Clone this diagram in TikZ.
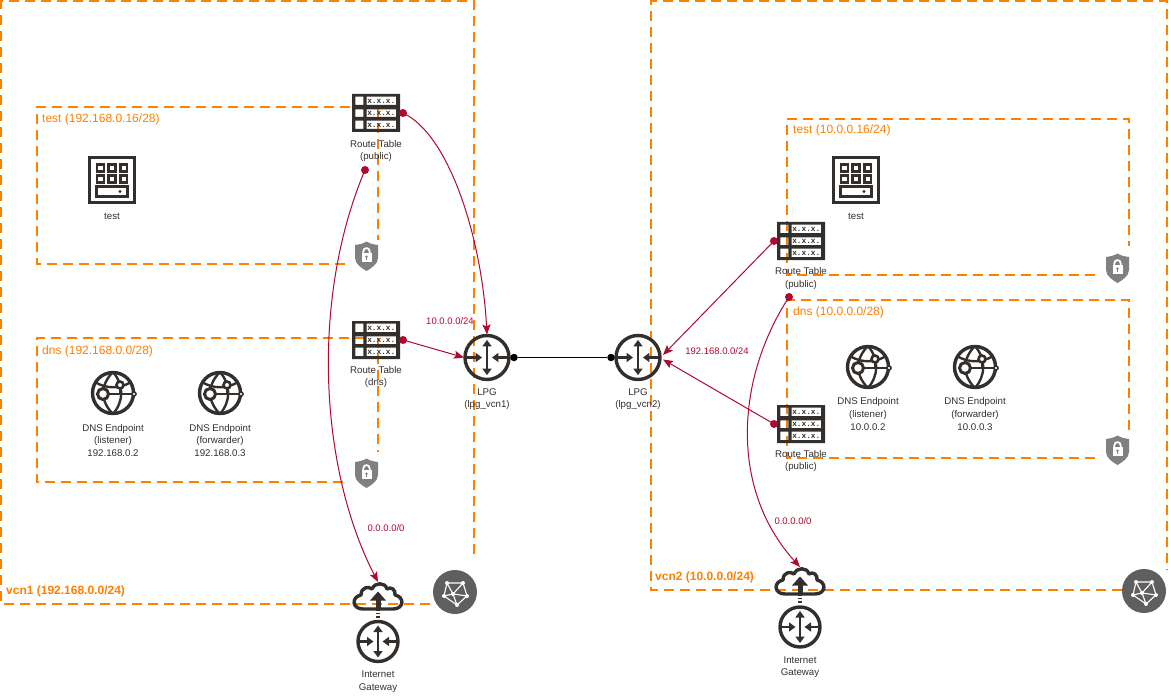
\documentclass[tikz,border=0pt]{standalone}
\usepackage{fontspec}
\setmainfont{Liberation Sans}
\newfontfamily\cellfont{Liberation Mono}
\usetikzlibrary{arrows.meta}
\definecolor{oracleorange}{HTML}{FF7F00}
\definecolor{routered}{HTML}{AE0A2E}
\definecolor{icondark}{HTML}{332F2C}
\definecolor{badgegray}{HTML}{5F5F5F}
\definecolor{shieldgray}{HTML}{808080}
\tikzset{
  subnetline/.style={draw=oracleorange,line width=2pt,dash pattern=on 10pt off 6pt},
  subnetlabel/.style={text=oracleorange,inner sep=0pt,font=\fontsize{12}{14}\selectfont},
  vcnlabel/.style={text=oracleorange,inner sep=0pt,font=\fontsize{12}{14}\selectfont\bfseries},
  iconlabel/.style={align=center,inner sep=0pt,text=icondark,font=\fontsize{9.7}{12.6}\selectfont},
  routelabel/.style={text=routered,inner sep=0pt,font=\fontsize{9.5}{12}\selectfont},
  routeline/.style={draw=routered,line width=1pt,-{Stealth[length=10pt,width=8pt,inset=2pt]}},
  rtslot/.style={minimum width=48pt,minimum height=38pt,inner sep=0pt,outer sep=3pt},
  roundslot/.style={circle,minimum size=46pt,inner sep=0pt,outer sep=0pt},
  cloudslot/.style={minimum width=48pt,minimum height=28pt,inner sep=0pt,outer sep=0pt},
  dot/.style={circle,fill=routered,minimum size=8pt,inner sep=0pt},
  blackdot/.style={circle,fill=black,minimum size=7.5pt,inner sep=0pt},
  pics/routetable/.style={code={
    \fill[icondark,even odd rule] (-24,-19) rectangle (24,19)
      (-20.7,-16.3) rectangle (-12.7,-8) (-9.3,-16.3) rectangle (20,-8)
      (-20.7,-3.7) rectangle (-12.7,4) (-9.3,-3.7) rectangle (20,4)
      (-20.7,7.7) rectangle (-12.7,16) (-9.3,7.7) rectangle (20,16);
    \foreach \rowy in {-12,0,12}
      \node[text=icondark,inner sep=0pt,font=\fontsize{7.8}{8}\cellfont\bfseries] at (5.3,\rowy) {x.x.x.};
  }},
  pics/router/.style={code={
    \draw[icondark,line width=3.4pt] (0,0) circle (20);
    \draw[icondark,line width=2.4pt,{Triangle[width=9pt,length=6.5pt]}-{Triangle[width=9pt,length=6.5pt]}] (0,-16) -- (0,16);
    \draw[icondark,line width=2.4pt,-{Triangle[width=9pt,length=6.5pt]}] (-20,0) -- (-4.5,0);
    \draw[icondark,line width=2.4pt,-{Triangle[width=9pt,length=6.5pt]}] (20,0) -- (4.5,0);
  }},
  pics/cloudgw/.style={code={
    \draw[icondark,line width=3.4pt,line join=round] (-15,13) .. controls (-26,13) and (-27,1) .. (-17,-1)
      .. controls (-17,-9) and (-9,-10) .. (-6,-7) .. controls (-3,-14) and (7,-14) .. (9,-7)
      .. controls (13,-10) and (18,-6) .. (17,-1) .. controls (27,1) and (26,13) .. (15,13) -- cycle;
    \draw[icondark,line width=5pt] (0,14) -- (0,3);
    \fill[icondark] (0,-4.5) -- (8,4.5) -- (-8,4.5) -- cycle;
  }},
  pics/instance/.style={code={
    \draw[icondark,line width=3.2pt] (-22.5,-22.5) rectangle (22.5,22.5);
    \foreach \colx in {-11.7,0,11.7}
      \foreach \rowy in {-12,-1}
        \draw[icondark,line width=2.4pt] (\colx-3.4,\rowy-3.4) rectangle (\colx+3.4,\rowy+3.4);
    \draw[icondark,line width=2.8pt] (-15.5,6.5) rectangle (15.5,16.5);
    \fill[icondark] (8,11.5) circle (1.7);
  }},
  pics/dnsglobe/.style={code={
    \draw[icondark,line width=3.4pt] (0,0) circle (20.5);
    \draw[icondark,line width=2.4pt] (0,-21) .. controls (-13,-8) and (-13,8) .. (0,21);
    \draw[icondark,line width=2.4pt] (0,-21) .. controls (11,-8) and (11,8) .. (0,21);
    \draw[icondark,line width=2.4pt] (-18,-11) .. controls (-7,-4) and (7,-4) .. (18,-11);
    \draw[icondark,line width=2.4pt] (-10,1) -- (21,1) (7,-8) -- (7,1);
    \draw[icondark,line width=3pt,fill=white] (-10,1) circle (5.5);
    \draw[icondark,line width=2.6pt,fill=white] (7,-8) circle (3.5);
    \draw[icondark,line width=1.6pt,fill=white] (21,1) circle (2);
  }},
  pics/shield/.style={code={
    \fill[shieldgray] (0,-14.5) .. controls (4,-12) and (8,-11.5) .. (11.5,-11) -- (11.5,2)
      .. controls (11.5,8) and (5,12) .. (0,15) .. controls (-5,12) and (-11.5,8) .. (-11.5,2) -- (-11.5,-11)
      .. controls (-8,-11.5) and (-4,-12) .. (0,-14.5) -- cycle;
    \draw[white,line width=1.8pt] (-3.2,-2) -- (-3.2,-4.5) .. controls (-3.2,-9) and (3.2,-9) .. (3.2,-4.5) -- (3.2,-2);
    \fill[white] (-5,-3) rectangle (5,5.5);
    \fill[shieldgray] (0,0.8) circle (1.4);
    \draw[shieldgray,line width=1pt] (0,1) -- (0,3.6);
  }},
  pics/vcnbadge/.style={code={
    \fill[badgegray] (0,0) circle (22);
    \draw[white,line width=1.1pt,line join=round] (-8,-9) -- (8,-9) -- (12,4) -- (2,13) -- (-11,4) -- cycle
      (-8,-9) -- (-2,2) -- (12,4) (8,-9) -- (-2,2) -- (2,13) (-11,4) -- (-2,2);
    \foreach \gx/\gy in {-8/-9,8/-9,-11/4,2/13,12/4,-2/2}
      \fill[white] (\gx,\gy) circle (2);
  }}
}
\begin{document}
\begin{tikzpicture}[x=1pt,y=-1pt]
  \useasboundingbox (0,0) rectangle (1171,698);

  \draw[subnetline] (430,604) -- (1,604) -- (1,1) -- (474,1) -- (474,560);
  \draw[subnetline] (345,264) -- (37,264) -- (37,107) -- (360,107);
  \draw[subnetline] (378,107) -- (378,240);
  \draw[subnetline] (365,338) -- (37,338) -- (37,482) -- (346,482);
  \draw[subnetline] (378,338) -- (378,452);

  \draw[subnetline] (1122,590) -- (651,590) -- (651,1) -- (1167,1) -- (1167,570);
  \draw[subnetline] (1095,275) -- (787,275) -- (787,119) -- (1129,119) -- (1129,246);
  \draw[subnetline] (1095,458) -- (787,458) -- (787,300) -- (1129,300) -- (1129,435);

  \node[vcnlabel,anchor=west] (vcnAname) at (6,591) {vcn1 (192.168.0.0/24)};
  \node[vcnlabel,anchor=west] (vcnBname) at (655,577) {vcn2 (10.0.0.0/24)};
  \node[subnetlabel,anchor=west] (testAname) at (42,119) {test (192.168.0.16/28)};
  \node[subnetlabel,anchor=west] (dnsAname) at (42,351) {dns (192.168.0.0/28)};
  \node[subnetlabel,anchor=west] (testBname) at (793,130) {test (10.0.0.16/24)};
  \node[subnetlabel,anchor=west] (dnsBname) at (793,312) {dns (10.0.0.0/28)};

  \node[rtslot] (rtA) at (376,113) {};
  \pic at (rtA) {routetable};
  \node[iconlabel] (rtAname) at (376,151) {Route Table\\(public)};
  \node[rtslot] (rtB) at (376,340) {};
  \pic at (rtB) {routetable};
  \node[iconlabel] (rtBname) at (376,377) {Route Table\\(dns)};
  \node[rtslot] (rtC) at (801,241) {};
  \pic at (rtC) {routetable};
  \node[iconlabel] (rtCname) at (801,278.5) {Route Table\\(public)};
  \node[rtslot] (rtD) at (801,424) {};
  \pic at (rtD) {routetable};
  \node[iconlabel] (rtDname) at (801,461) {Route Table\\(public)};

  \node[minimum size=48pt] (testA) at (112,180) {};
  \pic at (testA) {instance};
  \node[iconlabel] (testAtext) at (112,216) {test};
  \node[minimum size=48pt] (testB) at (856,180) {};
  \pic at (testB) {instance};
  \node[iconlabel] (testBtext) at (856,216) {test};

  \node[roundslot] (dnsAa) at (113,393) {};
  \pic at (dnsAa) {dnsglobe};
  \node[iconlabel] (dnsAatext) at (113,440.5) {DNS Endpoint\\(listener)\\192.168.0.2};
  \node[roundslot] (dnsAb) at (220,393) {};
  \pic at (dnsAb) {dnsglobe};
  \node[iconlabel] (dnsAbtext) at (220,440.5) {DNS Endpoint\\(forwarder)\\192.168.0.3};
  \node[roundslot] (dnsBa) at (868,367) {};
  \pic at (dnsBa) {dnsglobe};
  \node[iconlabel] (dnsBatext) at (868,414) {DNS Endpoint\\(listener)\\10.0.0.2};
  \node[roundslot] (dnsBb) at (975,367) {};
  \pic at (dnsBb) {dnsglobe};
  \node[iconlabel] (dnsBbtext) at (975,414) {DNS Endpoint\\(forwarder)\\10.0.0.3};

  \node[minimum size=26pt] (lockA) at (366.5,256) {};
  \pic at (lockA) {shield};
  \node[minimum size=26pt] (lockB) at (366.5,473) {};
  \pic at (lockB) {shield};
  \node[minimum size=26pt] (lockC) at (1117.5,268) {};
  \pic at (lockC) {shield};
  \node[minimum size=26pt] (lockD) at (1117.5,450) {};
  \pic at (lockD) {shield};

  \node[roundslot] (vcnAbadge) at (455,592) {};
  \pic at (vcnAbadge) {vcnbadge};
  \node[roundslot] (vcnBbadge) at (1144,591) {};
  \pic at (vcnBbadge) {vcnbadge};

  \node[roundslot] (lpgA) at (487,357.5) {};
  \pic[scale=1.1] at (lpgA) {router};
  \node[iconlabel] (lpgAname) at (487,399) {LPG\\(lpg\_vcn1)};
  \node[roundslot] (lpgB) at (638,357.5) {};
  \pic[scale=1.1] at (lpgB) {router};
  \node[iconlabel] (lpgBname) at (638,399) {LPG\\(lpg\_vcn2)};

  \node[cloudslot] (igwA) at (378,596) {};
  \pic at (igwA) {cloudgw};
  \node[roundslot] (gwA) at (378,641.5) {};
  \pic at (gwA) {router};
  \node[iconlabel] (gwAname) at (378,681.5) {Internet\\Gateway};
  \node[cloudslot] (igwB) at (800,581) {};
  \pic at (igwB) {cloudgw};
  \node[roundslot] (gwB) at (800,627) {};
  \pic at (gwB) {router};
  \node[iconlabel] (gwBname) at (800,667) {Internet\\Gateway};

  \draw[icondark,line width=4pt,dash pattern=on 1.3pt off 1.8pt] (igwA.south) -- (gwA.north);
  \draw[icondark,line width=4pt,dash pattern=on 1.3pt off 1.8pt] (igwB.south) -- (gwB.north);

  \node[dot] (rtAdot) at (rtA.east) {};
  \node[dot] (rtBdot) at (rtB.east) {};
  \node[dot] (rtCdot) at (rtC.west) {};
  \node[dot] (rtDdot) at (rtD.west) {};
  \node[dot] (rtAlow) at (365,170) {};
  \node[dot] (rtClow) at (789,297) {};
  \coordinate (lpgBupper) at (663,355);
  \coordinate (lpgBlower) at (663,359.5);

  \draw[routeline] (rtAdot.center) .. controls (450,135) and (482,240) .. (lpgA.north);
  \draw[routeline] (rtBdot.center) -- (lpgA.west);
  \draw[routeline] (rtAlow.center) .. controls (310,300) and (320,470) .. (igwA.north);
  \draw[routeline] (rtCdot.center) -- (lpgBupper);
  \draw[routeline] (rtDdot.center) -- (lpgBlower);
  \draw[routeline] (rtClow.center) .. controls (735,380) and (730,490) .. (igwB.north);

  \node[blackdot] (lpgAdot) at ([xshift=4pt]lpgA.east) {};
  \node[blackdot] (lpgBdot) at ([xshift=-4pt]lpgB.west) {};
  \draw[black,line width=.8pt] (lpgAdot) -- (lpgBdot);

  \node[routelabel] (cidrA) at (450,321) {10.0.0.0/24};
  \node[routelabel] (cidrB) at (717,351) {192.168.0.0/24};
  \node[routelabel] (defA) at (386,528) {0.0.0.0/0};
  \node[routelabel] (defB) at (793,521) {0.0.0.0/0};
\end{tikzpicture}
\end{document}
